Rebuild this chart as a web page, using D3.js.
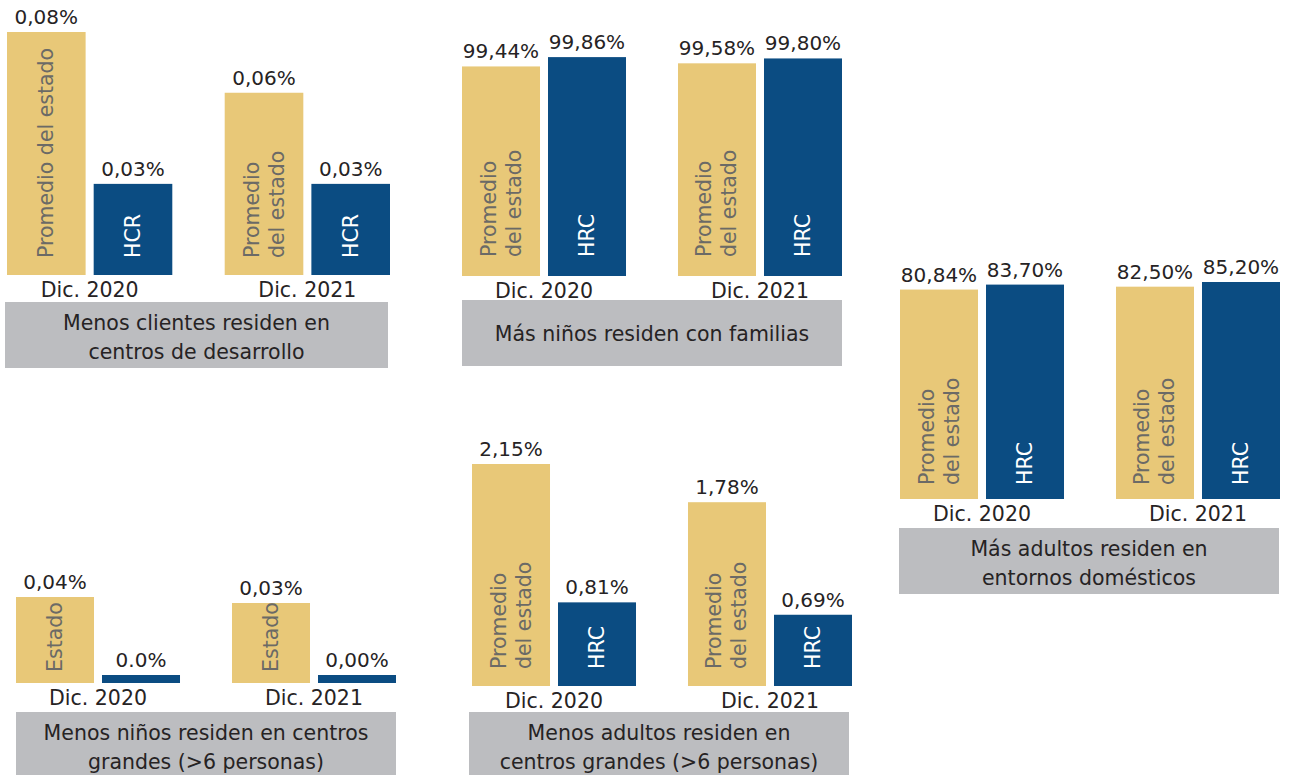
<!DOCTYPE html>
<html>
<head>
<meta charset="utf-8">
<script src="https://cdn.jsdelivr.net/npm/d3@7"></script>
<style>
  html, body { margin: 0; padding: 0; background: #fff; }
  svg { display: block; font-family: "DejaVu Sans", sans-serif; }
  .value { font-size: 20px; fill: #262324; text-anchor: middle; }
  .period { font-size: 20.5px; fill: #262324; text-anchor: middle; }
  .title { font-size: 20.5px; fill: #262324; text-anchor: middle; }
  .inbar { font-size: 20.5px; text-anchor: start; }
</style>
</head>
<body>
<div id="chart"></div>
<script>
// Five small bar panels: state average vs regional center

const periods = ['Dic. 2020', 'Dic. 2021'];
const series = ['estado', 'hrc'];

const titles = [
    ['Menos clientes residen en', 'centros de desarrollo'],
    ['Más niños residen con familias'],
    ['Más adultos residen en', 'entornos domésticos'],
    ['Menos niños residen en centros', 'grandes (>6 personas)'],
    ['Menos adultos residen en', 'centros grandes (>6 personas)']
];

const estadoValues = [[0.08, 0.06], [99.44, 99.58], [80.84, 82.50], [0.04, 0.03], [2.15, 1.78]];
const hrcValues = [[0.03, 0.03], [99.86, 99.80], [83.70, 85.20], [0.00, 0.00], [0.81, 0.69]];

const estadoLabels = [['0,08%', '0,06%'], ['99,44%', '99,58%'], ['80,84%', '82,50%'], ['0,04%', '0,03%'], ['2,15%', '1,78%']];
const hrcLabels = [['0,03%', '0,03%'], ['99,86%', '99,80%'], ['83,70%', '85,20%'], ['0.0%', '0,00%'], ['0,81%', '0,69%']];

const estadoNames = [
    [['Promedio del estado'], ['Promedio', 'del estado']],
    [['Promedio', 'del estado'], ['Promedio', 'del estado']],
    [['Promedio', 'del estado'], ['Promedio', 'del estado']],
    [['Estado'], ['Estado']],
    [['Promedio', 'del estado'], ['Promedio', 'del estado']]
];
const hrcNames = [['HCR', 'HCR'], ['HRC', 'HRC'], ['HRC', 'HRC'], [null, null], ['HRC', 'HRC']];

// Layout of each panel (positions and scale ranges)
const layout = [
    { x: 7,   w: 383, base: 275, domain: [0, 0.08],        range: [0, 243],     boxX: 5,   boxW: 383, boxTop: 302, pad: 17 },
    { x: 462, w: 380, base: 276, domain: [90, 100],        range: [0, 222],     boxX: 462, boxW: 380, boxTop: 300, pad: 19 },
    { x: 900, w: 380, base: 499, domain: [-40, 85.2],      range: [0, 217],     boxX: 899, boxW: 380, boxTop: 528, pad: 14 },
    { x: 16,  w: 380, base: 683, domain: [0, 0.03, 0.04],  range: [8, 80, 86], boxX: 16,  boxW: 380, boxTop: 712, pad: 11 },
    { x: 472, w: 380, base: 686, domain: [0, 2.15],        range: [0, 222],     boxX: 469, boxW: 380, boxTop: 712, pad: 17 }
];

const colors = { estado: '#e8c878', hrc: '#0b4c82' };
const inbarColors = { estado: '#6b6a66', hrc: '#ffffff' };

const width = 1289;
const height = 775;

const svg = d3.select('#chart')
    .append('svg')
    .attr('width', width)
    .attr('height', height);

layout.forEach((L, i) => {
    const g = svg.append('g').attr('class', 'panel');

    const xOuter = d3.scaleBand()
        .domain(periods)
        .range([L.x, L.x + L.w])
        .paddingInner(0.2407)
        .paddingOuter(0);

    const xInner = d3.scaleBand()
        .domain(series)
        .range([0, xOuter.bandwidth()])
        .paddingInner(0.093);

    const h = d3.scaleLinear().domain(L.domain).range(L.range);

    const rows = periods.flatMap((p, j) => [
        { p, s: 'estado', v: estadoValues[i][j], label: estadoLabels[i][j], name: estadoNames[i][j] },
        { p, s: 'hrc', v: hrcValues[i][j], label: hrcLabels[i][j], name: hrcNames[i][j] }
    ]);

    // Bars
    g.selectAll('rect.bar')
        .data(rows)
        .join('rect')
        .attr('class', 'bar')
        .attr('x', d => xOuter(d.p) + xInner(d.s))
        .attr('y', d => L.base - h(d.v))
        .attr('width', xInner.bandwidth())
        .attr('height', d => h(d.v))
        .attr('fill', d => colors[d.s]);

    // Value labels above bars
    g.selectAll('text.value')
        .data(rows)
        .join('text')
        .attr('class', 'value')
        .attr('x', d => xOuter(d.p) + xInner(d.s) + xInner.bandwidth() / 2)
        .attr('y', d => L.base - h(d.v) - 8)
        .text(d => d.label);

    // Rotated names inside bars
    rows.filter(d => d.name).forEach(d => {
        const lines = Array.isArray(d.name) ? d.name : [d.name];
        const cx = xOuter(d.p) + xInner(d.s) + xInner.bandwidth() / 2;
        const first = cx + 7 - (lines.length - 1) * 12.5;
        lines.forEach((line, k) => {
            g.append('text')
                .attr('class', 'inbar')
                .attr('transform', `translate(${first + k * 25},${L.base - L.pad}) rotate(-90)`)
                .attr('fill', inbarColors[d.s])
                .text(line);
        });
    });

    // Period labels
    g.selectAll('text.period')
        .data(periods)
        .join('text')
        .attr('class', 'period')
        .attr('x', d => xOuter(d) + xOuter.bandwidth() / 2)
        .attr('y', L.base + 22)
        .text(d => d);

    // Grey caption box
    g.append('rect')
        .attr('x', L.boxX)
        .attr('y', L.boxTop)
        .attr('width', L.boxW)
        .attr('height', 66)
        .attr('fill', '#bcbdc0');

    const lines = titles[i];
    const cy = L.boxTop + 35.5;
    g.selectAll('text.title')
        .data(lines)
        .join('text')
        .attr('class', 'title')
        .attr('x', L.boxX + L.boxW / 2)
        .attr('y', (d, k) => cy + 7 - (lines.length - 1) * 14.5 + k * 29 - (lines.length === 1 ? 1.5 : 0))
        .text(d => d);
});
</script>
</body>
</html>
